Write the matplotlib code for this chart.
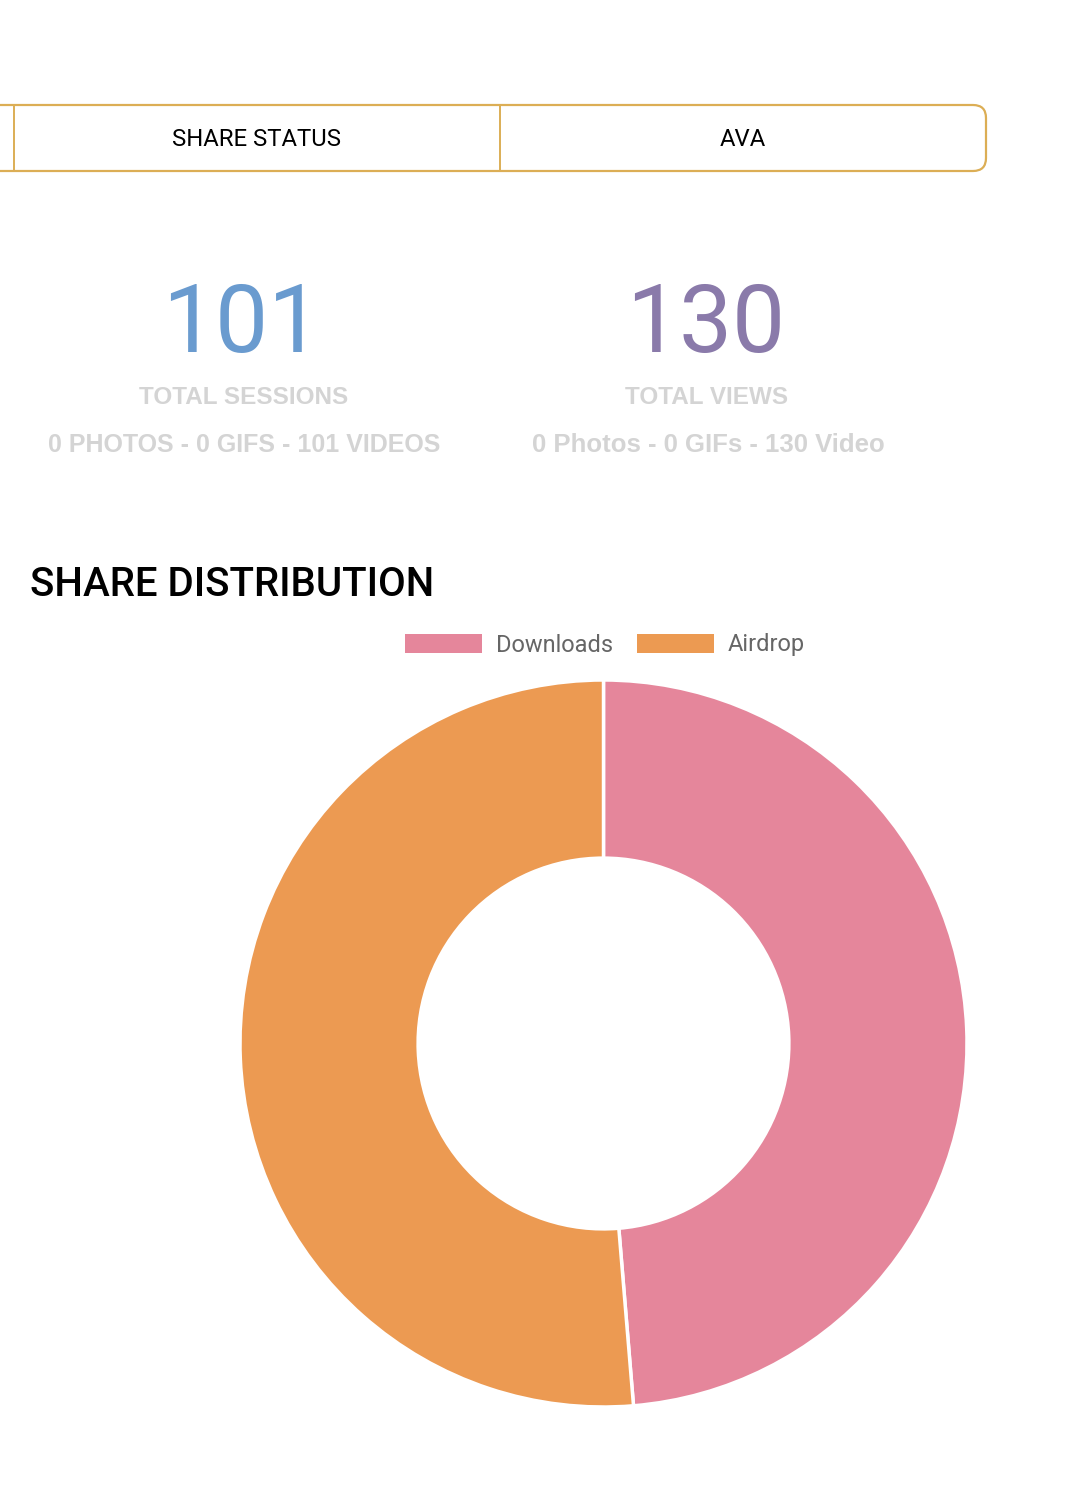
import matplotlib
matplotlib.use("Agg")
import matplotlib.pyplot as plt
from matplotlib.patches import FancyBboxPatch

plt.rcParams['font.family'] = ['Liberation Sans', 'DejaVu Sans']

# data
tabs = ["SHARE STATUS", "AVA"]
sessions_total = 101
views_total = 130
sessions_detail = "0 PHOTOS - 0 GIFS - 101 VIDEOS"
views_detail = "0 Photos - 0 GIFs - 130 Video"
labels = ["Downloads", "Airdrop"]
values = [37, 39]
colors = ["#e5869b", "#ec9a52"]

W, H = 1086, 1488
fig = plt.figure(figsize=(W / 100, H / 100), dpi=100)

# overlay in pixel coords (y down)
bg = fig.add_axes([0, 0, 1, 1])
bg.set_xlim(0, W)
bg.set_ylim(H, 0)
bg.axis("off")

gold = "#dcae55"
box = FancyBboxPatch((-40, 105), 1026, 66, boxstyle="round,pad=0,rounding_size=13",
                     fill=False, ec=gold, lw=1.6)
bg.add_patch(box)
for x in [14, 500]:
    bg.plot([x, x], [105, 171], color=gold, lw=1.4)
bg.text(257, 139, tabs[0], ha="center", va="center", fontsize=17.2, color="black",
        family="Roboto")
bg.text(743, 139, tabs[1], ha="center", va="center", fontsize=17.2, color="black",
        family="Roboto")

bg.text(242, 326, str(sessions_total), ha="center", va="center", fontsize=68,
        color="#6a9bcf", family="Roboto")
bg.text(706, 326, str(views_total), ha="center", va="center", fontsize=68,
        color="#8a7aaa", family="Roboto")
gray = "#d4d4d4"
bg.text(244, 397, "TOTAL SESSIONS", ha="center", va="center", fontsize=17.5,
        fontweight="bold", color=gray)
bg.text(707, 397, "TOTAL VIEWS", ha="center", va="center", fontsize=17.5,
        fontweight="bold", color=gray)
bg.text(244, 445, sessions_detail, ha="center", va="center", fontsize=18,
        fontweight="bold", color=gray)
bg.text(708, 445, views_detail, ha="center", va="center", fontsize=18.5,
        fontweight="bold", color=gray)

bg.text(30, 585, "SHARE DISTRIBUTION", ha="left", va="center", fontsize=29,
        color="black", family="Roboto", fontweight="medium")

# donut
cx, cy, r = 603.5, 1043.5, 363.5
ax = fig.add_axes([(cx - r) / W, (H - cy - r) / H, 2 * r / W, 2 * r / H])
wedges, _ = ax.pie(values, colors=colors, startangle=90, counterclock=False, radius=1,
                   wedgeprops=dict(width=0.49, edgecolor="white", linewidth=2.5))
ax.set_xlim(-1, 1)
ax.set_ylim(-1, 1)
ax.set_aspect("equal")
ax.axis("off")

leg = fig.legend(wedges, labels, loc="center", bbox_to_anchor=(605 / W, 1 - 645 / H),
                 ncol=2, frameon=False, handlelength=3.26, handleheight=0.85,
                 columnspacing=1.0, handletextpad=0.6, labelcolor="#666666",
                 prop={"family": "Roboto", "size": 17})
for h in leg.legend_handles:
    h.set_edgecolor("none")

fig.savefig("out.png", dpi=100)
